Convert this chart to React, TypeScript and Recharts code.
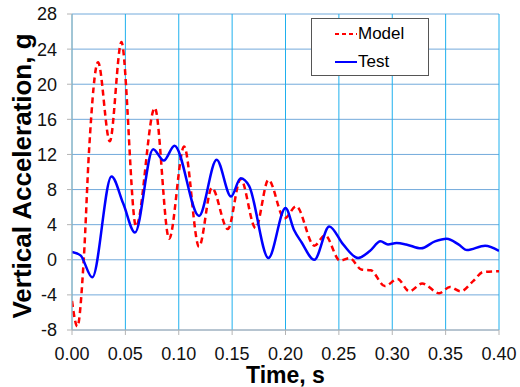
import { LineChart, Line, XAxis, YAxis, CartesianGrid, Label } from 'recharts';

const modelTime = [0, 0.005, 0.011, 0.016, 0.0244, 0.0354, 0.0463, 0.06, 0.0776, 0.091, 0.105, 0.119, 0.131, 0.146, 0.158, 0.172, 0.184, 0.199, 0.21, 0.227, 0.237, 0.251, 0.26, 0.271, 0.28, 0.293, 0.305, 0.316, 0.328, 0.344, 0.354, 0.364, 0.376, 0.385, 0.4];
const modelAcc = [-4.7, -7.6, 0, 12.5, 22.5, 13.5, 24.8, 3.8, 17.3, 2.4, 12.9, 1.5, 8.2, 3.5, 9.2, 3.6, 9.1, 4.7, 6.1, 1.6, 2.8, -0.1, 0.2, -1.1, -1.2, -3.0, -2.2, -3.6, -2.7, -3.8, -3.1, -3.6, -2.4, -1.4, -1.3];

const testTime = [0, 0.008, 0.019, 0.037, 0.048, 0.059, 0.076, 0.086, 0.096, 0.119, 0.1355, 0.149, 0.158, 0.166, 0.184, 0.2, 0.208, 0.215, 0.227, 0.241, 0.254, 0.268, 0.279, 0.289, 0.296, 0.304, 0.313, 0.327, 0.34, 0.351, 0.362, 0.37, 0.387, 0.4];
const testAcc = [0.9, 0.5, -2.0, 9.5, 6.4, 3.1, 12.6, 11.3, 13.0, 5.0, 11.4, 7.2, 9.3, 8.4, 0.2, 5.9, 3.4, 2.0, 0, 3.8, 1.75, 0.2, 1.0, 2.1, 1.75, 1.9, 1.75, 1.3, 2.1, 2.4, 1.75, 1.1, 1.6, 1.0];

const xTicks = [0, 0.05, 0.1, 0.15, 0.2, 0.25, 0.3, 0.35, 0.4];
const xMinorTicks = Array.from({ length: 41 }, (_, i) => i / 100);
const yTicks = [-8, -4, 0, 4, 8, 12, 16, 20, 24, 28];
const yMinorTicks = Array.from({ length: 37 }, (_, i) => i - 8);

const modelData = modelTime.map((t, i) => ({ t, v: modelAcc[i] }));
const testData = testTime.map((t, i) => ({ t, v: testAcc[i] }));

const FONT = "Arial, 'Liberation Sans', sans-serif";
const AXIS = '#b4b4b4';

export default function App() {
  return (
    <div style={{ position: 'absolute', left: 0, top: 0, width: 520, height: 387, background: '#fff', fontFamily: FONT }}>
      <LineChart width={520} height={387} margin={{ top: 14, right: 21, left: 0, bottom: 0 }}>
        <CartesianGrid horizontal={true} vertical={false} stroke="#5b9bd5" strokeOpacity={0.85} />
        <CartesianGrid horizontal={false} vertical={true} stroke="#1fb0ee" />
        <XAxis
          dataKey="t"
          type="number"
          domain={[0, 0.4]}
          ticks={xTicks}
          allowDataOverflow
          tickFormatter={(v) => v.toFixed(2)}
          height={57}
          tickSize={5}
          tickMargin={12}
          stroke={AXIS}
          tick={{ fill: '#111', fontSize: 18, fontFamily: FONT }}
        >
          <Label
            content={() => (
              <text x={285.5} y={383} textAnchor="middle" fontSize={23} fontWeight="bold" fontFamily={FONT} fill="#000">
                Time, s
              </text>
            )}
          />
        </XAxis>
        <XAxis
          xAxisId="minor"
          dataKey="t"
          type="number"
          domain={[0, 0.4]}
          ticks={xMinorTicks}
          mirror
          tick={false}
          axisLine={false}
          tickSize={5}
          stroke={AXIS}
        />
        <YAxis
          type="number"
          domain={[-8, 28]}
          ticks={yTicks}
          allowDataOverflow
          width={72}
          tickSize={5}
          tickMargin={10}
          stroke={AXIS}
          tick={{ fill: '#111', fontSize: 18, fontFamily: FONT }}
        >
          <Label
            content={() => (
              <text
                x={31}
                y={176}
                transform="rotate(-90 31 176)"
                textAnchor="middle"
                fontSize={26}
                fontWeight="bold"
                fontFamily={FONT}
                fill="#000"
              >
                Vertical Acceleration, g
              </text>
            )}
          />
        </YAxis>
        <YAxis
          yAxisId="minor"
          type="number"
          domain={[-8, 28]}
          ticks={yMinorTicks}
          mirror
          tick={false}
          axisLine={false}
          tickSize={5}
          stroke={AXIS}
        />
        <Line
          data={modelData}
          dataKey="v"
          type="monotone"
          stroke="#ff0000"
          strokeWidth={2.5}
          strokeDasharray="6 4"
          dot={false}
          isAnimationActive={false}
        />
        <Line
          data={testData}
          dataKey="v"
          type="monotone"
          stroke="#0000ff"
          strokeWidth={2.5}
          dot={false}
          isAnimationActive={false}
        />
      </LineChart>
      <div
        style={{
          position: 'absolute',
          left: 311,
          top: 18,
          width: 116,
          height: 56,
          border: '1px solid #555',
          background: '#fff',
          fontSize: 17,
          color: '#000',
        }}
      >
        <div style={{ position: 'absolute', left: 23, top: 5, display: 'flex', alignItems: 'center' }}>
          <svg width={22} height={10}>
            <line x1={0} y1={5} x2={22} y2={5} stroke="#ff0000" strokeWidth={2} strokeDasharray="4 3" />
          </svg>
          <span style={{ marginLeft: 1 }}>Model</span>
        </div>
        <div style={{ position: 'absolute', left: 23, top: 33, display: 'flex', alignItems: 'center' }}>
          <svg width={22} height={10}>
            <line x1={0} y1={5} x2={22} y2={5} stroke="#0000ff" strokeWidth={2} />
          </svg>
          <span style={{ marginLeft: 1 }}>Test</span>
        </div>
      </div>
    </div>
  );
}
